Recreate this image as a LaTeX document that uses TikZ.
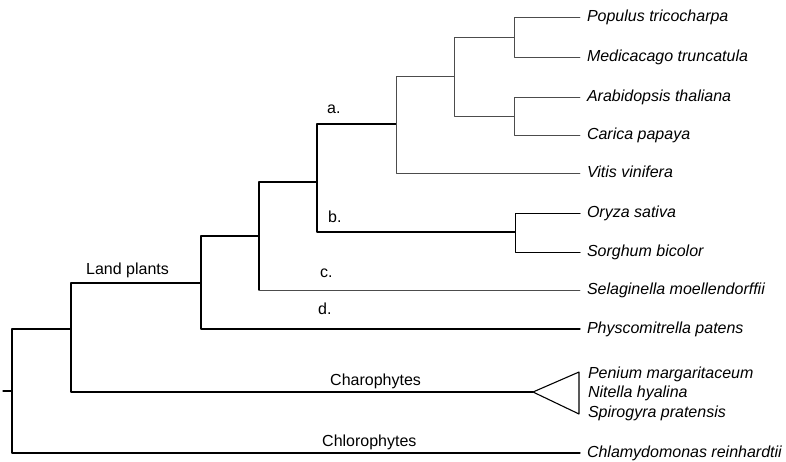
\documentclass[tikz,border=0pt]{standalone}
\usepackage{fontspec}
\setmainfont{Liberation Sans}
\usetikzlibrary{positioning}

\begin{document}
\begin{tikzpicture}[x=1pt, y=-1pt, line cap=round, line join=round,
    branch/.style={line width=1.3pt},
    twig/.style={line width=0.9pt, black!70},
    taxon/.style={anchor=west, inner sep=0pt, outer xsep=7pt,
      text height=11pt, text depth=3pt,
      font=\fontsize{16}{19}\selectfont\itshape},
    lbl/.style={anchor=base west, inner sep=0pt,
      font=\fontsize{16}{19}\selectfont}]
  \useasboundingbox (0,0) rectangle (786,461);
  % --- internal nodes of the tree ------------------------------------
  \coordinate (stub)    at (3,391);
  \coordinate (root)    at (12,391);
  \coordinate (strepto) at (71,329);
  \coordinate (land)    at (201,283);
  \coordinate (vasc)    at (259,236);
  \coordinate (angio)   at (317,182);
  \coordinate (eudicot) at (396,124);
  \coordinate (rosid)   at (454,76);
  \coordinate (popmed)  at (514,37);
  \coordinate (arabcar) at (514,116);
  \coordinate (monocot) at (515,232);
  \coordinate (clade)   at (533,392);
  \coordinate (cladeN)  at (579,372);
  \coordinate (cladeS)  at (579,414);
  % --- taxa ------------------------------------------------------------
  \node[taxon] (populus) at (580,17)  {Populus tricocharpa};
  \node[taxon] (medic)   at (580,57)  {Medicacago truncatula};
  \node[taxon] (arabid)  at (580,97)  {Arabidopsis thaliana};
  \node[taxon] (carica)  at (580,135) {Carica papaya};
  \node[taxon] (vitis)   at (580,173) {Vitis vinifera};
  \node[taxon] (oryza)   at (580,213) {Oryza sativa};
  \node[taxon] (sorghum) at (580,252) {Sorghum bicolor};
  \node[taxon] (selag)   at (580,290) {Selaginella moellendorffii};
  \node[taxon] (physco)  at (580,329) {Physcomitrella patens};
  \node[taxon] (penium)  at (581,374) {Penium margaritaceum};
  \node[taxon] (nitella) at (581,393) {Nitella hyalina};
  \node[taxon] (spiro)   at (581,413) {Spirogyra pratensis};
  \node[taxon] (chlamy)  at (580,453) {Chlamydomonas reinhardtii};
  % --- branches --------------------------------------------------------
  \draw[branch] (stub) -- (root);
  \draw[branch] (root) |- (strepto);
  \draw[branch] (root) |- (chlamy);
  \draw[branch] (strepto) |- (land);
  \draw[branch] (strepto) |- (clade);
  \draw[line width=1.1pt] (clade) -- (cladeN) -- (cladeS) -- cycle;
  \draw[branch] (land) |- (vasc);
  \draw[branch] (land) |- (physco);
  \draw[branch] (vasc) |- (angio);
  \draw[branch] (vasc) -- (vasc |- selag);
  \draw[twig] (vasc |- selag) -- (selag);
  \draw[branch] (angio) |- (eudicot);
  \draw[branch] (angio) |- (monocot);
  \draw[twig] (eudicot) |- (rosid);
  \draw[twig] (eudicot) |- (vitis);
  \draw[twig] (rosid) |- (popmed);
  \draw[twig] (rosid) |- (arabcar);
  \draw[twig] (popmed) |- (populus);
  \draw[twig] (popmed) |- (medic);
  \draw[twig] (arabcar) |- (arabid);
  \draw[twig] (arabcar) |- (carica);
  \draw[branch, line width=1pt] (monocot) |- (oryza);
  \draw[branch, line width=1pt] (monocot) |- (sorghum);
  % --- clade labels ----------------------------------------------------
  \node[lbl] (lbA)     at (327,113) {a.};
  \node[lbl] (lbB)     at (328,222) {b.};
  \node[lbl] (lbC)     at (320,277) {c.};
  \node[lbl] (lbD)     at (318,314) {d.};
  \node[lbl] (lbLand)  at (86,274)  {Land plants};
  \node[lbl] (lbChara) at (330,385) {Charophytes};
  \node[lbl] (lbChlor) at (322,446) {Chlorophytes};
\end{tikzpicture}
\end{document}
